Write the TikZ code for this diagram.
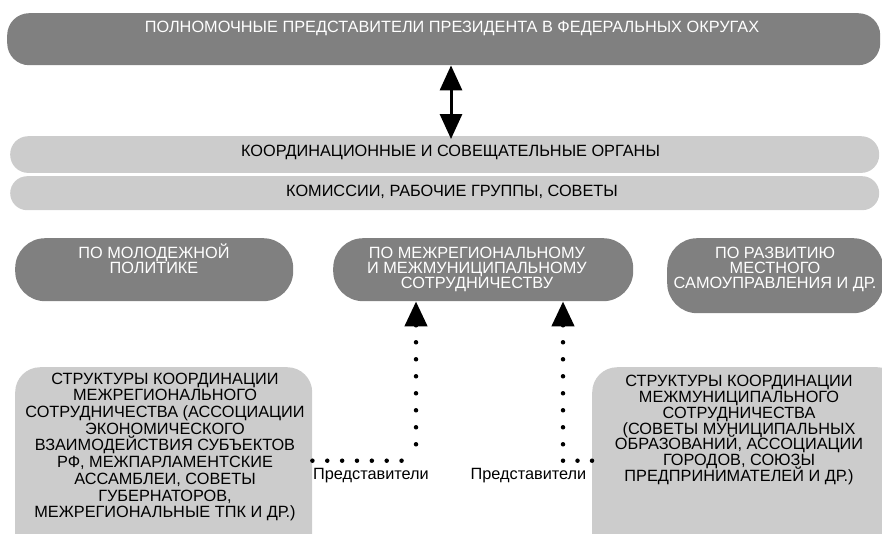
\documentclass[tikz,border=0pt]{standalone}
\usepackage{fontspec}
\setmainfont{Liberation Sans}
\usetikzlibrary{arrows.meta}
\definecolor{boxdarkc}{HTML}{808080}
\definecolor{boxlightc}{HTML}{CCCCCC}
\newcommand\fsz[1]{\fontsize{16.3}{#1}\selectfont\lineskiplimit=-100pt\relax}
\begin{document}
\begin{tikzpicture}[x=1pt,y=-1pt,
  boxdark/.style={fill=boxdarkc, draw=none, inner sep=0pt, anchor=north west},
  boxlight/.style={fill=boxlightc, draw=none, inner sep=0pt, anchor=north west},
  toptxt/.style={inner sep=0pt, anchor=base, font=\fsz{18}},
  midtxt/.style={inner sep=0pt, align=center, text=white},
  bottxt/.style={inner sep=0pt, align=center},
  lbl/.style={inner sep=0pt, anchor=base, font=\fsz{18}},
  dbl/.style={line width=3pt, {Triangle[width=22pt,length=25pt]}-{Triangle[width=22pt,length=25pt]}},
  dotline/.style={line width=4.5pt, line cap=round},
  uparrow/.style={{Triangle[width=22pt,length=25pt]}-}
]
\useasboundingbox (0,0) rectangle (882,533);
\clip (0,0) rectangle (882,533);

% top box
\node[boxdark, rounded corners=22pt, minimum width=873pt, minimum height=52pt] (pres) at (7,13) {};
\node[toptxt, text=white] (presT) at (452,32.3) {ПОЛНОМОЧНЫЕ ПРЕДСТАВИТЕЛИ ПРЕЗИДЕНТА В ФЕДЕРАЛЬНЫХ ОКРУГАХ};

% coordination bars
\node[boxlight, rounded corners=18pt, minimum width=869pt, minimum height=36.7pt] (coord) at (10,136) {};
\node[toptxt] (coordT) at (450.5,156.7) {КООРДИНАЦИОННЫЕ И СОВЕЩАТЕЛЬНЫЕ ОРГАНЫ};
\node[boxlight, rounded corners=17pt, minimum width=869pt, minimum height=34pt] (comm) at (10,176) {};
\node[toptxt] (commT) at (452,196.7) {КОМИССИИ, РАБОЧИЕ ГРУППЫ, СОВЕТЫ};

% double arrow
\coordinate (ax) at (451,0);
\draw[dbl] (ax |- pres.south) -- ([yshift=-3pt]ax |- coord.north);

% middle row
\node[boxdark, rounded corners=30pt, minimum width=278pt, minimum height=63pt] (youth) at (15,238) {};
\node[midtxt, font=\fsz{15.2}] (youthT) at (154,258.5) {ПО МОЛОДЕЖНОЙ\\ПОЛИТИКЕ};
\node[boxdark, rounded corners=30pt, minimum width=300pt, minimum height=63pt] (inter) at (333,238) {};
\node[midtxt, font=\fsz{15}] (interT) at (477,269) {ПО МЕЖРЕГИОНАЛЬНОМУ\\И МЕЖМУНИЦИПАЛЬНОМУ\\СОТРУДНИЧЕСТВУ};
\node[boxdark, rounded corners=30pt, minimum width=216pt, minimum height=75pt] (local) at (667,238) {};
\node[midtxt, font=\fsz{15}] (localT) at (775,269) {ПО РАЗВИТИЮ\\МЕСТНОГО\\САМОУПРАВЛЕНИЯ И ДР.};

% bottom boxes
\node[boxlight, rounded corners=25pt, minimum width=297pt, minimum height=200pt] (regs) at (15,367) {};
\node[bottxt, font=\fsz{16.7}] (regsT) at (165,446.9) {СТРУКТУРЫ КООРДИНАЦИИ\\МЕЖРЕГИОНАЛЬНОГО\\СОТРУДНИЧЕСТВА (АССОЦИАЦИИ\\ЭКОНОМИЧЕСКОГО\\ВЗАИМОДЕЙСТВИЯ СУБЪЕКТОВ\\РФ, МЕЖПАРЛАМЕНТСКИЕ\\АССАМБЛЕИ, СОВЕТЫ\\ГУБЕРНАТОРОВ,\\МЕЖРЕГИОНАЛЬНЫЕ ТПК И ДР.)};
\node[boxlight, rounded corners=25pt, minimum width=310pt, minimum height=200pt] (muns) at (592,367) {};
\node[bottxt, font=\fsz{15.83}] (munsT) at (739,430) {СТРУКТУРЫ КООРДИНАЦИИ\\МЕЖМУНИЦИПАЛЬНОГО\\СОТРУДНИЧЕСТВА\\(СОВЕТЫ МУНИЦИПАЛЬНЫХ\\ОБРАЗОВАНИЙ, АССОЦИАЦИИ\\ГОРОДОВ, СОЮЗЫ\\ПРЕДПРИНИМАТЕЛЕЙ И ДР.)};

% dotted connectors
\coordinate (lc) at (416,460.7);
\coordinate (rc) at (563,460.7);
\draw[dotline, dash pattern=on 0pt off 14.86pt] (regs.east |- lc) -- (lc);
\draw[dotline, dash pattern=on 0pt off 17pt, uparrow] (lc |- inter.south) -- (lc);
\draw[dotline, dash pattern=on 0pt off 14.5pt] (rc) -- (muns.west |- rc);
\draw[dotline, dash pattern=on 0pt off 17pt, uparrow] (rc |- inter.south) -- (rc);

\node[lbl] (rep1) at (371,479) {Представители};
\node[lbl] (rep2) at (528.5,479) {Представители};
\end{tikzpicture}
\end{document}
